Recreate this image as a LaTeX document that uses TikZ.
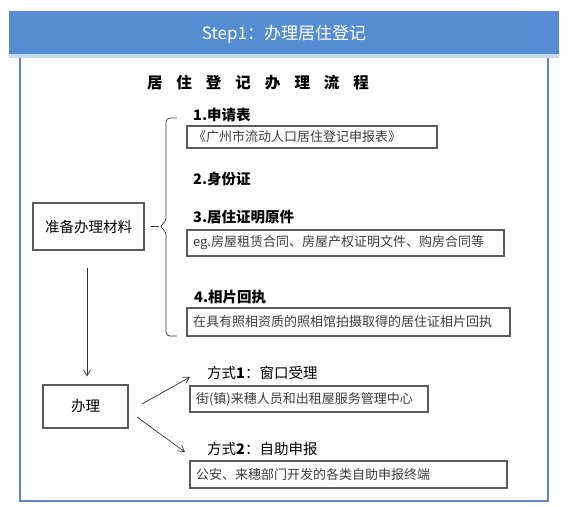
\documentclass[tikz,border=0pt]{standalone}
\usepackage{fontspec}
\setmainfont{Liberation Sans}
\newfontfamily\cjk{Noto Sans CJK SC}
\usetikzlibrary{arrows.meta}
\definecolor{hdrblue}{RGB}{86,140,210}
\definecolor{hdrlight}{RGB}{198,217,240}
\definecolor{framecol}{RGB}{95,134,190}
\definecolor{boxline}{RGB}{90,90,90}
\definecolor{txtgray}{RGB}{60,60,60}
\tikzset{
  x=1pt,y=-1pt,
  matbox/.style={draw=boxline,line width=1.1pt,rectangle,inner sep=0pt,font=\cjk\fontsize{14.5}{16}\selectfont},
  descbox/.style={draw=boxline,line width=1.1pt,rectangle,inner xsep=6pt,inner ysep=0pt,align=left,
     text=txtgray,font=\cjk\fontsize{13}{15}\selectfont},
  itemhead/.style={anchor=west,inner sep=0pt,font=\cjk\bfseries\fontsize{14.5}{16}\selectfont},
  methhead/.style={anchor=west,inner sep=0pt,font=\cjk\fontsize{14.5}{16}\selectfont},
  conn/.style={draw=black!80,line width=0.7pt},
  arr/.style={conn,-{Straight Barb[length=6pt,width=7pt]}},
}
\begin{document}
\begin{tikzpicture}
\useasboundingbox (0,0) rectangle (578,506);
% header
\fill[hdrblue] (9,11) rectangle (559,54);
\fill[hdrlight] (9,54) rectangle (559,57.5);
\node[text=white,font=\cjk\fontsize{17}{19}\selectfont] (hdr) at (284,34) {Step1：办理居住登记};
% frame
\draw[framecol,line width=2.4pt] (20,57.5) -- (20,501) -- (548,501) -- (548,57.5);
% title
\node[font=\cjk\bfseries\fontsize{15.5}{17}\selectfont] (title) at (258,83)
  {居\hspace{14pt}住\hspace{14pt}登\hspace{14pt}记\hspace{14pt}办\hspace{14pt}理\hspace{14pt}流\hspace{14pt}程};
% materials box
\node[matbox,minimum width=111pt,minimum height=47pt] (mat) at (88.5,226.5) {准备办理材料};
% brace
\coordinate (tip) at (159,226.5);
\draw[conn] (mat.east) ++(6,0) -- (tip);
\draw[conn,rounded corners=4pt] (177,118) -- (166,118) -- (166,222) -- (tip) -- (166,231) -- (166,336) -- (177,336);
% items
\node[itemhead] (i1) at (193,115) {1.申请表};
\node[descbox,minimum width=250pt,minimum height=22pt,text width=238pt] (b1) at (312,137) {《广州市流动人口居住登记申报表》};
\node[itemhead] (i2) at (193,179) {2.身份证};
\node[itemhead] (i3) at (193,217) {3.居住证明原件};
\node[descbox,minimum width=317pt,minimum height=26pt,text width=305pt] (b3) at (345.5,243) {eg.房屋租赁合同、房屋产权证明文件、购房合同等};
\node[itemhead] (i4) at (194,297) {4.相片回执};
\node[descbox,minimum width=323pt,minimum height=28pt,text width=311pt] (b4) at (348.5,322) {在具有照相资质的照相馆拍摄取得的居住证相片回执};
% handle box
\node[matbox,minimum width=85pt,minimum height=43pt] (ban) at (85.5,406.5) {办理};
\coordinate (ax) at (87,0);
\draw[arr,shorten <=17pt,shorten >=8pt] (mat.south -| ax) -- (ban.north -| ax);
% methods
\node[methhead] (m1) at (207,373) {方式\textbf{1}：窗口受理};
\node[descbox,minimum width=238pt,minimum height=26pt,text width=226pt] (ba) at (309,399) {街(镇)来穗人员和出租屋服务管理中心};
\node[methhead] (m2) at (207,449) {方式\textbf{2}：自助申报};
\node[descbox,minimum width=317pt,minimum height=27pt,text width=305pt] (bb) at (348.5,474.5) {公安、来穗部门开发的各类自助申报终端};
\coordinate (u1) at (142,404);
\coordinate (u2) at (190,377);
\coordinate (l1) at (137,417);
\coordinate (l2) at (185,452);
\draw[arr] (u1) -- (u2);
\draw[arr] (l1) -- (l2);
\end{tikzpicture}
\end{document}
